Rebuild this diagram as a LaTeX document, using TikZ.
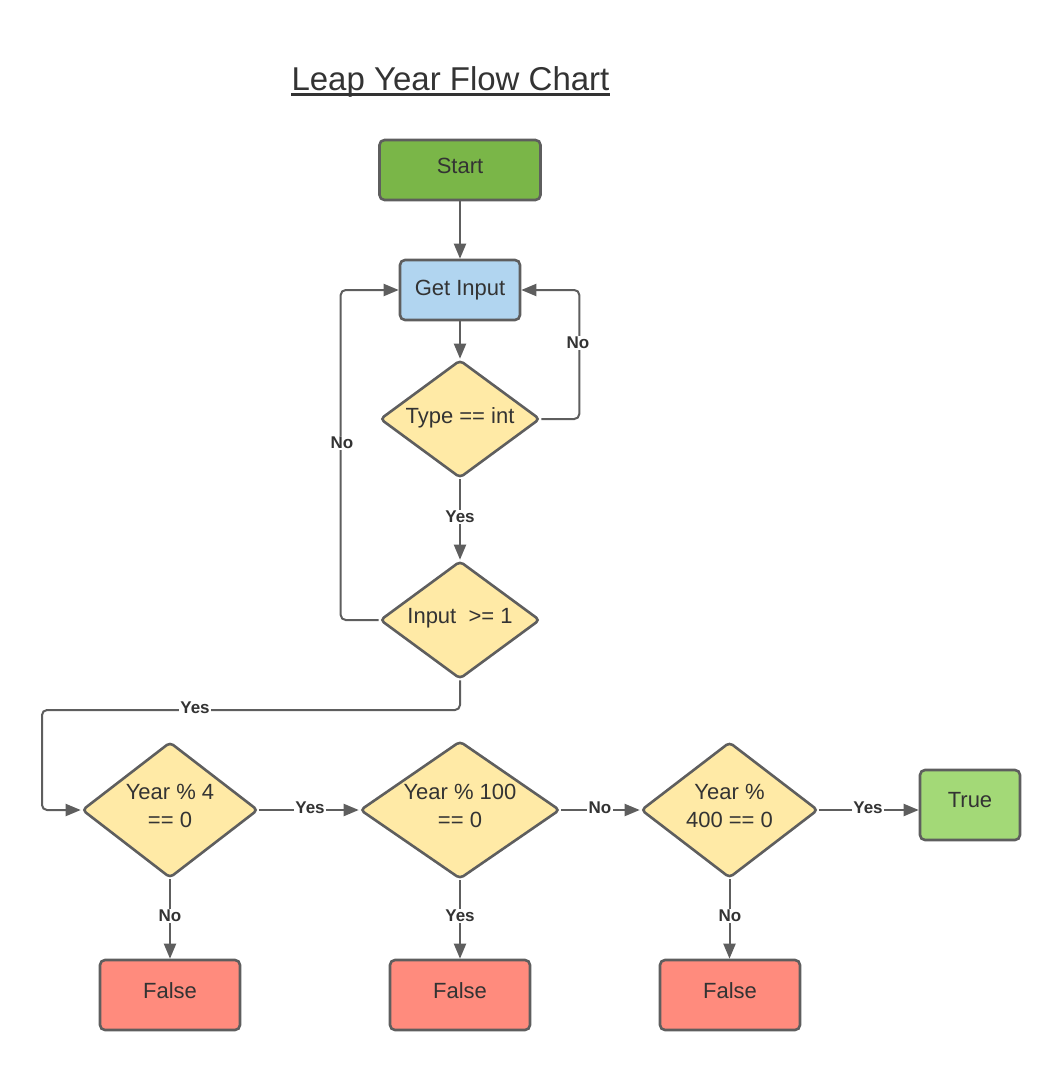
\documentclass[tikz,border=0pt]{standalone}
\usepackage{fontspec}
\setmainfont{Liberation Sans}
\usetikzlibrary{shapes.geometric,arrows.meta}
\definecolor{edge}{HTML}{5E5E5E}
\definecolor{txt}{HTML}{333333}
\definecolor{startg}{HTML}{7AB648}
\definecolor{inblue}{HTML}{B1D5F0}
\definecolor{dyel}{HTML}{FFEAA6}
\definecolor{trueg}{HTML}{A3D977}
\definecolor{falser}{HTML}{FF8B7D}
\newcommand\liftxt[2]{\raisebox{0pt}[\height][\dimexpr\depth+#1\relax]{\begin{tabular}{@{}c@{}}#2\end{tabular}}}
\begin{document}
\begin{tikzpicture}[x=1pt,y=-1pt,
  box/.style={draw=edge,line width=2.6pt,rectangle,rounded corners=5pt,inner sep=0pt,
    text=txt,font=\fontsize{22}{27}\selectfont},
  dia/.style={draw=edge,line width=2.6pt,diamond,rounded corners=4pt,inner sep=0pt,
    text=txt,font=\fontsize{22}{28}\selectfont},
  conn/.style={draw=edge,line width=2pt,rounded corners=5pt,-{Triangle[length=15pt,width=12pt]}},
  lab/.style={fill=white,inner sep=1.5pt,text=txt,font=\bfseries\fontsize{17}{19}\selectfont}]
\useasboundingbox (0,0) rectangle (1060,1070);
\node[text=txt,inner sep=0pt,anchor=base,font=\fontsize{33}{38}\selectfont] (title) at (450.5,91) {Leap Year Flow Chart};
\draw[txt,line width=2.4pt] ([yshift=-3.5pt]title.base west) -- ([yshift=-3.5pt]title.base east);
\node[box,fill=startg,minimum width=161pt,minimum height=60pt] (start) at (460,170) {\liftxt{4pt}{Start}};
\node[box,fill=inblue,minimum width=120pt,minimum height=60pt] (gi) at (460,290) {\liftxt{0pt}{Get Input}};
\node[dia,fill=dyel,aspect=1.35,minimum width=160pt,minimum height=118pt] (type) at (460,419) {\liftxt{3pt}{Type == int}};
\node[dia,fill=dyel,aspect=1.35,minimum width=160pt,minimum height=118pt] (inp) at (460,620) {\liftxt{4pt}{Input~ >= 1}};
\node[dia,fill=dyel,aspect=1.3,minimum width=176pt,minimum height=136pt] (d4) at (170,810) {\liftxt{4pt}{Year \% 4\\== 0}};
\node[dia,fill=dyel,aspect=1.45,minimum width=197pt,minimum height=136pt] (d100) at (460,810) {\liftxt{4pt}{Year \% 100\\== 0}};
\node[dia,fill=dyel,aspect=1.3,minimum width=177pt,minimum height=136pt] (d400) at (729.5,810) {\liftxt{4pt}{Year \%\\400 == 0}};
\node[box,fill=trueg,minimum width=100pt,minimum height=70pt] (true) at (970,805) {\liftxt{6pt}{True}};
\node[box,fill=falser,minimum width=140pt,minimum height=70pt] (f1) at (170,995) {\liftxt{4pt}{False}};
\node[box,fill=falser,minimum width=140pt,minimum height=70pt] (f2) at (460,995) {\liftxt{4pt}{False}};
\node[box,fill=falser,minimum width=140pt,minimum height=70pt] (f3) at (730,995) {\liftxt{4pt}{False}};
\coordinate (yl) at (42,710);
\draw[conn] (start) -- (gi);
\draw[conn] (gi) -- (type);
\draw[conn] (type.east) -- ++(38,0) |- (gi.east);
\draw[conn] (inp.west) -- ++(-38,0) |- (gi.west);
\draw[conn] (type) -- (inp);
\draw[conn] (inp.south) |- (yl) |- (d4.west);
\draw[conn] (d4) -- (d100);
\draw[conn] (d100) -- (d400);
\draw[conn] (d400.east) -- (d400.east -| true.west);
\draw[conn] (d4) -- (f1);
\draw[conn] (d100) -- (f2);
\draw[conn] (d400.south) -- (d400.south |- f3.north);
\node[lab] (l1) at (578,343) {No};
\node[lab] (l2) at (342,443) {No};
\node[lab] (l3) at (460,517) {Yes};
\node[lab] (l4) at (195,708) {Yes};
\node[lab] (l5) at (310,808) {Yes};
\node[lab] (l6) at (600,808) {No};
\node[lab] (l7) at (868,808) {Yes};
\node[lab] (l8) at (170,916) {No};
\node[lab] (l9) at (460,916) {Yes};
\node[lab] (l10) at (730,916) {No};
\end{tikzpicture}
\end{document}
